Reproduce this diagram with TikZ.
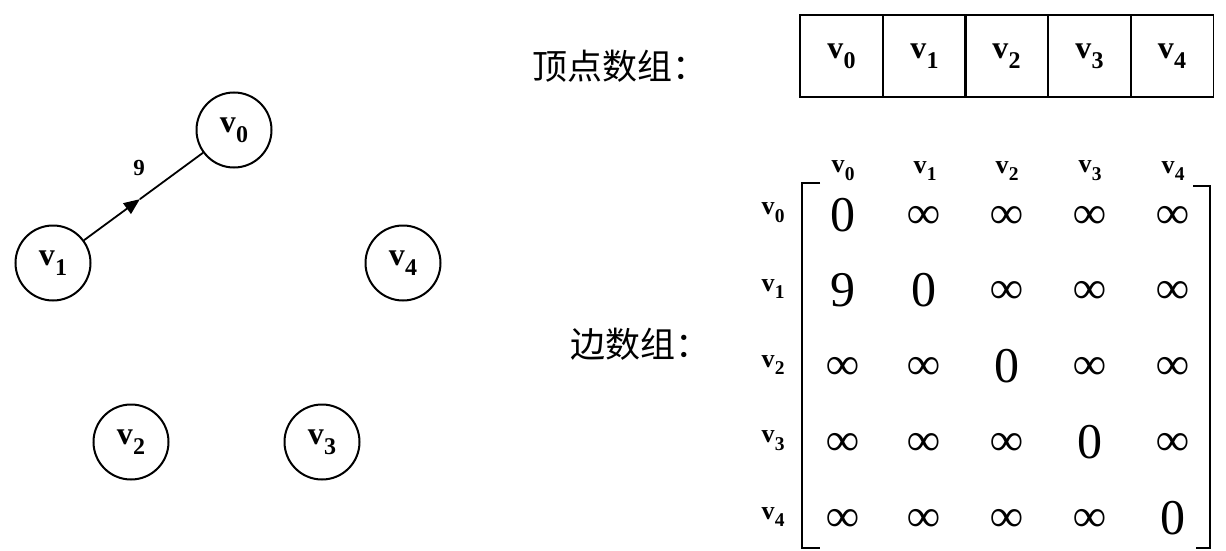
\documentclass[tikz,border=0pt]{standalone}
\usepackage{fontspec}
\usepackage{graphicx}
\setmainfont{Liberation Serif}
\newfontfamily\cjk{Noto Sans CJK SC}
\usetikzlibrary{arrows.meta,calc}
\newcommand{\vn}[1]{v\kern0.01em\raisebox{-0.3em}{\scalebox{0.75}{#1}}}
\tikzset{
  vert/.style={circle,draw,line width=2pt,minimum size=75pt,inner sep=0pt,font=\bfseries\fontsize{32}{32}\selectfont},
  cell/.style={draw,line width=1.8pt,minimum width=83pt,minimum height=82pt,inner sep=0pt,font=\bfseries\fontsize{32}{32}\selectfont},
  lab/.style={font=\bfseries\fontsize{26}{26}\selectfont,inner sep=0pt},
  ent/.style={font=\fontsize{50}{50}\selectfont,inner sep=0pt},
  infs/.style={font=\bfseries\fontsize{46}{46}\selectfont,inner sep=0pt},
  cjklab/.style={font=\cjk\fontsize{35}{35}\selectfont,anchor=west,inner sep=0pt},
  wlab/.style={font=\bfseries\fontsize{23}{23}\selectfont,inner sep=0pt},
  edgehalf/.style={line width=1.8pt,-{Triangle[length=16pt,width=13pt]}},
  edgerest/.style={line width=1.8pt},
  brk/.style={line width=2.2pt}
}
\begin{document}
\begin{tikzpicture}[x=1pt,y=-1pt]
\useasboundingbox (0,0) rectangle (1226,551);
% graph
\node[vert] (v0) at (234,130) {\vn{0}};
\node[vert] (v1) at (53,263) {\vn{1}};
\node[vert] (v4) at (403,263) {\vn{4}};
\node[vert] (v2) at (131,442) {\vn{2}};
\node[vert] (v3) at (322,442) {\vn{3}};
\coordinate (emid) at ($(v1)!0.48!(v0)$);
\draw[edgehalf] (v1) -- (emid);
\draw[edgerest] (emid) -- (v0);
\node[wlab] (w) at (139,168) {9};
% vertex array
\node[cjklab] (t1) at (532,66) {顶点数组：};
\foreach \i/\x in {0/841.5,1/924.5,2/1006.5,3/1089.5,4/1172}{
  \node[cell] (a\i) at (\x,56) {\vn{\i}};
}
% edge array
\node[cjklab] (t2) at (570,344) {边数组：};
\foreach \i/\x in {0/843,1/925,2/1007,3/1090,4/1173}{
  \node[lab] (h\i) at (\x,171) {\vn{\i}};
}
\foreach \i/\y in {0/213,1/289,2/365,3/441,4/517}{
  \node[lab] (r\i) at (773,\y) {\vn{\i}};
}
\coordinate (btl) at (802,183);
\coordinate (bbl) at (802,548);
\coordinate (btr) at (1210,186);
\coordinate (bbr) at (1210,548);
\draw[brk] ([xshift=18pt]btl) -- (btl) -- (bbl) -- ([xshift=18pt]bbl);
\draw[brk] ([xshift=-17pt]btr) -- (btr) -- (bbr) -- ([xshift=-14pt]bbr);
\foreach \r/\y/\row in {0/215/{0,I,I,I,I},1/290/{9,0,I,I,I},2/366/{I,I,0,I,I},3/442/{I,I,I,0,I},4/518/{I,I,I,I,0}}{
  \foreach \e [count=\c from 0] in \row {
    \pgfmathsetmacro{\xx}{{843,924,1007,1090,1173}[\c]}
    \if I\e
      \node[infs] (m\r\c) at (\xx,\y+2) {∞};
    \else
      \node[ent] (m\r\c) at (\xx,\y) {\e};
    \fi
  }
}
\end{tikzpicture}
\end{document}
